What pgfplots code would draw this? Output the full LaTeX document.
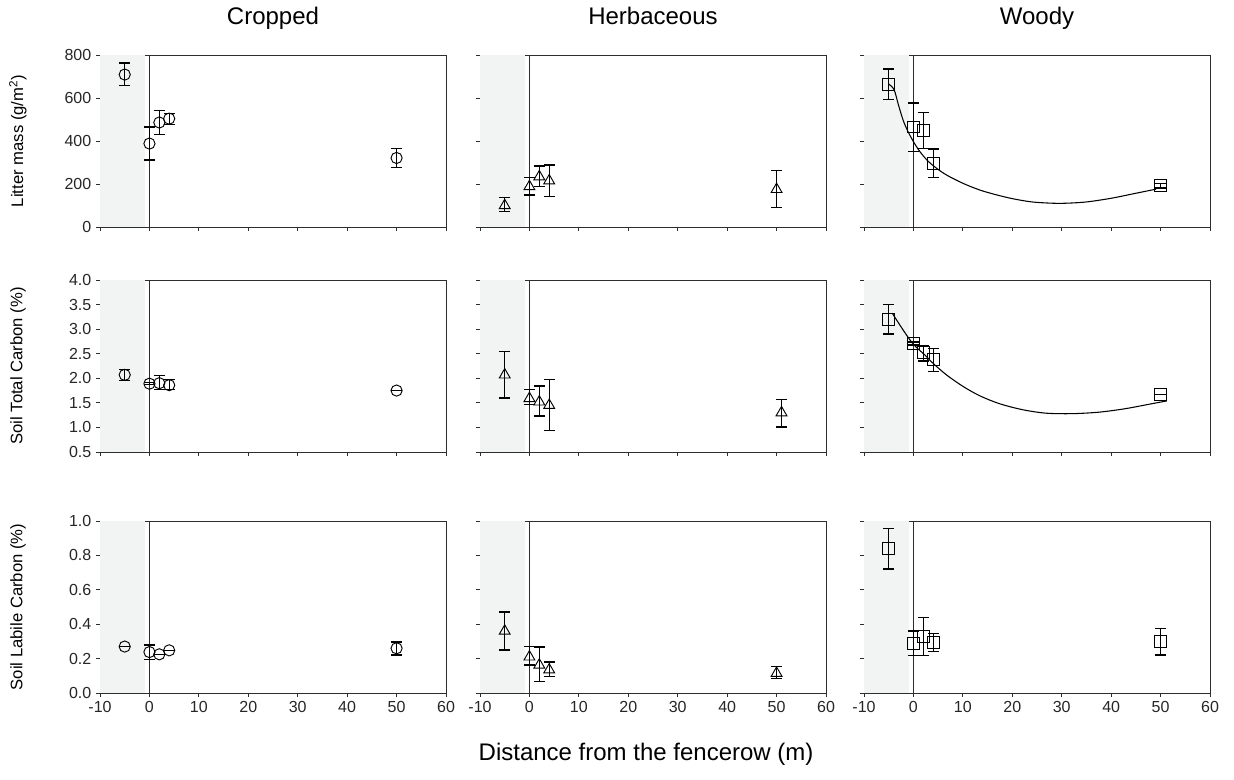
\documentclass[border=0pt]{standalone}
\usepackage{fontspec}
\setmainfont{Liberation Sans}
\usepackage{pgfplots}
\pgfplotsset{compat=1.18}
\definecolor{shade}{RGB}{242,243,243}
\definecolor{frame}{RGB}{45,45,45}
\pgfplotsset{
  panel/.style={
    scale only axis, width=259.5pt, height=129pt,
    xmin=-10, xmax=60, xtick={-10,0,10,20,30,40,50,60},
    tick align=outside, tick pos=left, major tick length=3pt,
    axis line style={frame, line width=0.7pt},
    every tick/.style={frame, line width=0.6pt},
    /pgf/number format/assume math mode=true,
    tick label style={font=\fontsize{12}{12}\selectfont, text=black!85},
    ylabel style={font=\fontsize{12.5}{13}\selectfont, at={(axis description cs:-0.237,0.5)}, anchor=center},
    title style={font=\fontsize{18}{18}\selectfont, at={(axis description cs:0.5,1)}, anchor=base, yshift=17pt},
    anchor=north west,
  },
  nolabx/.style={xticklabels={}},
  noly/.style={yticklabels={}},
  row1/.style={ymin=0, ymax=800, ytick={0,200,400,600,800}},
  row2/.style={ymin=0.5, ymax=4, ytick={0.5,1,1.5,2,2.5,3,3.5,4},
    yticklabel style={/pgf/number format/.cd, fixed, fixed zerofill, precision=1}},
  row3/.style={ymin=0, ymax=1, ytick={0,0.2,0.4,0.6,0.8,1},
    yticklabel style={/pgf/number format/.cd, fixed, fixed zerofill, precision=1}},
  pts/.style={only marks, mark options={fill=white, draw=black, line width=0.7pt},
    error bars/y dir=both, error bars/y explicit,
    error bars/error bar style={line width=0.8pt, black},
    error bars/error mark options={rotate=90, mark size=4pt, line width=1pt, black}},
  fit/.style={smooth, black, line width=0.8pt, mark=none},
}
\newcommand{\backdrop}[1]{%
  \addplot[fill=shade, draw=none, forget plot] coordinates {(-10,#1) (-0.8,#1)} \closedcycle;
  \addplot[frame, line width=0.7pt, forget plot] coordinates {(0,-1) (0,#1)};
}
\begin{document}
\begin{tikzpicture}
\path (0,0) rectangle (925.5pt,-585pt);

% ---------- row 1: litter mass ----------
\begin{axis}[panel, row1, nolabx, at={(75pt,-41.25pt)}, title={Cropped},
  ylabel={Litter mass (g/m\textsuperscript{2})}]
\backdrop{800}
\addplot[pts, mark=o, mark size=4.2pt] table[x=x, y=y, y error plus=ep, y error minus=em] {
x y ep em
-5 709 54 51
0 388 77 76
2 486 57 55
4 504 25 26
50 321 44 44
};
\end{axis}

\begin{axis}[panel, row1, nolabx, noly, at={(360pt,-41.25pt)}, title={Herbaceous}]
\backdrop{800}
\addplot[pts, mark=triangle, mark size=4.7pt] table[x=x, y=y, y error plus=ep, y error minus=em] {
x y ep em
-5 100 37 28
0 188 43 39
2 234 49 46
4 215 74 73
50 175 87 83
};
\end{axis}

\begin{axis}[panel, row1, nolabx, noly, at={(648pt,-41.25pt)}, title={Woody}]
\backdrop{800}
\addplot[fit] coordinates {
(-5,665) (-3.9,638) (-3.06,570) (-2.06,495) (-1.06,442) (0,397) (1.26,352)
(2.92,307) (4.92,269) (6.91,239) (10.23,201) (13.55,171) (16.88,149)
(20.2,131) (24.2,116) (29.5,110) (34.8,116) (40.1,134) (44.8,156) (49.1,176)
};
\addplot[pts, mark=square, mark size=4.4pt] table[x=x, y=y, y error plus=ep, y error minus=em] {
x y ep em
-5 663 72 71
0 465 112 115
2 450 82 86
4 296 66 67
50 192 10 10
};
\end{axis}

% ---------- row 2: soil total carbon ----------
\begin{axis}[panel, row2, nolabx, at={(75pt,-210pt)},
  ylabel={Soil Total Carbon (\%)}]
\backdrop{4}
\addplot[pts, mark=o, mark size=4.2pt] table[x=x, y=y, y error plus=ep, y error minus=em] {
x y ep em
-5 2.07 0.11 0.12
0 1.89 0.02 0.02
2 1.90 0.15 0.13
4 1.86 0.11 0.09
50 1.75 0 0
};
\end{axis}

\begin{axis}[panel, row2, nolabx, noly, at={(360pt,-210pt)}]
\backdrop{4}
\addplot[pts, mark=triangle, mark size=4.7pt] table[x=x, y=y, y error plus=ep, y error minus=em] {
x y ep em
-5 2.07 0.48 0.47
0 1.59 0.18 0.12
2 1.52 0.32 0.29
4 1.45 0.53 0.51
51 1.30 0.27 0.29
};
\end{axis}

\begin{axis}[panel, row2, nolabx, noly, at={(648pt,-210pt)}]
\backdrop{4}
\addplot[fit] coordinates {
(-4.2,3.31) (-1.87,2.95) (0,2.69) (2.13,2.49) (4.13,2.29) (6.8,2.06)
(10.1,1.83) (13.5,1.64) (17.5,1.48) (22.1,1.36) (26.8,1.29) (32.1,1.28)
(37.5,1.31) (42.8,1.38) (48.1,1.48) (51.3,1.54)
};
\addplot[pts, mark=square, mark size=4.4pt] table[x=x, y=y, y error plus=ep, y error minus=em] {
x y ep em
-5 3.20 0.30 0.30
0 2.71 0.03 0.03
2 2.52 0.15 0.17
4 2.38 0.22 0.24
50 1.67 0 0
};
\end{axis}

% ---------- row 3: soil labile carbon ----------
\begin{axis}[panel, row3, at={(75pt,-390.75pt)},
  ylabel={Soil Labile Carbon (\%)}]
\backdrop{1}
\addplot[pts, mark=o, mark size=4.2pt] table[x=x, y=y, y error plus=ep, y error minus=em] {
x y ep em
-5 0.27 0 0
0 0.238 0.042 0.042
2 0.225 0 0
4 0.248 0 0
50 0.26 0.036 0.04
};
\end{axis}

\begin{axis}[panel, row3, noly, at={(360pt,-390.75pt)},
  xlabel={Distance from the fencerow (m)},
  xlabel style={font=\fontsize{18}{18}\selectfont, at={(axis description cs:0.48,0)}, anchor=center, yshift=-46pt}]
\backdrop{1}
\addplot[pts, mark=triangle, mark size=4.7pt] table[x=x, y=y, y error plus=ep, y error minus=em] {
x y ep em
-5 0.36 0.11 0.11
0 0.21 0.06 0.047
2 0.163 0.104 0.098
4 0.135 0.045 0.039
50 0.115 0.041 0.03
};
\end{axis}

\begin{axis}[panel, row3, noly, at={(648pt,-390.75pt)}]
\backdrop{1}
\addplot[pts, mark=square, mark size=4.4pt] table[x=x, y=y, y error plus=ep, y error minus=em] {
x y ep em
-5 0.84 0.115 0.12
0 0.29 0.07 0.073
2 0.33 0.11 0.113
4 0.295 0.051 0.055
50 0.30 0.074 0.08
};
\end{axis}
\end{tikzpicture}
\end{document}
